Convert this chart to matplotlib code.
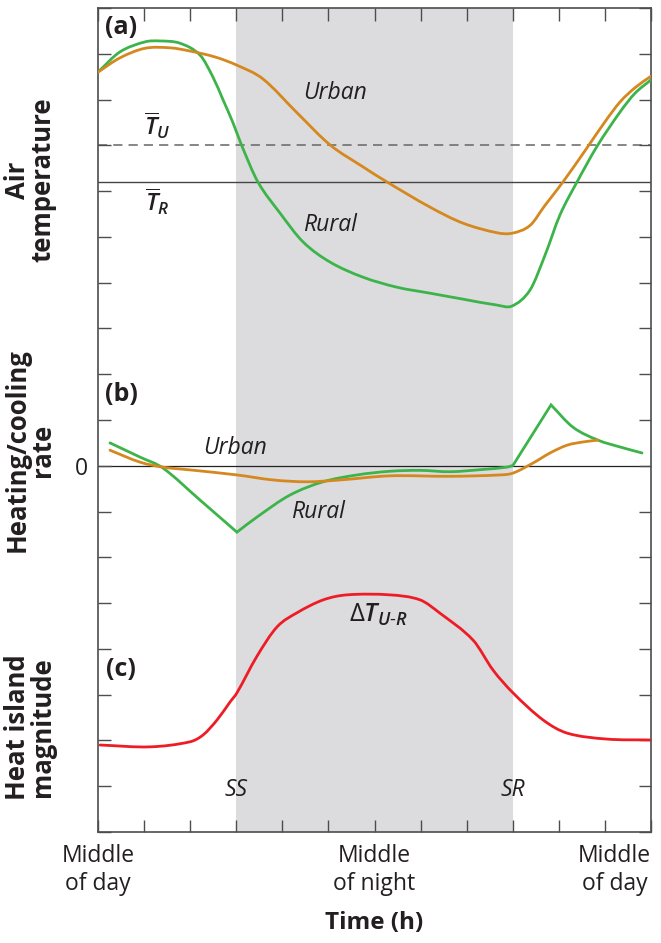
"""
Urban heat island diurnal cycle: air temperature, heating/cooling rate
and heat island magnitude on one shared time axis (schematic).
"""
import numpy as np
import matplotlib; matplotlib.use("Agg")
import matplotlib.pyplot as plt
from matplotlib.path import Path
from matplotlib.patches import PathPatch

plt.rcParams["font.family"] = ["Open Sans", "DejaVu Sans"]
plt.rcParams["mathtext.fontset"] = "custom"
plt.rcParams["mathtext.rm"] = "Open Sans"
plt.rcParams["mathtext.it"] = "Open Sans:italic:semibold"
plt.rcParams["mathtext.bf"] = "Open Sans:bold"

# time in hours from middle of day; y in stacked schematic units
SUNSET, SUNRISE = 6.0, 18.0
T_URBAN_MEAN, T_RURAL_MEAN, RATE_ZERO = 15.0, 14.2, 8.0

# ---- (a) air temperature ----
urban_a_h = [0, 0.95, 2.04, 3.13, 3.99, 5.08, 6.03, 7.16, 8.64, 10.07, 11.5, 12.54,
             14.41, 15.84, 17.32, 17.97, 18.75, 19.4, 20.18, 21.27, 22.01, 22.66, 23.31, 24]
urban_a = [16.6, 16.91, 17.12, 17.13, 17.06, 16.93, 16.75, 16.45, 15.71, 15.01, 14.53, 14.2,
           13.65, 13.3, 13.09, 13.08, 13.25, 13.69, 14.2, 14.98, 15.52, 15.95, 16.26, 16.51]
rural_a_h = [0, 0.95, 2.04, 2.69, 3.56, 4.43, 4.99, 5.43, 5.86, 6.25, 6.94, 7.9, 8.9,
             10.07, 11.5, 12.98, 14.41, 15.84, 17.32, 17.97, 18.75, 19.4, 20.05, 20.79,
             21.66, 22.66, 23.31, 24]
rural_a = [16.6, 17.04, 17.26, 17.28, 17.23, 16.97, 16.49, 15.99, 15.49, 14.98, 14.2, 13.52,
           12.89, 12.45, 12.12, 11.9, 11.77, 11.64, 11.51, 11.49, 11.84, 12.6, 13.48, 14.2,
           14.98, 15.73, 16.14, 16.43]

# ---- (b) heating/cooling rate (zero at RATE_ZERO) ----
urban_b_h = [0.52, 1.82, 2.82, 3.99, 6.03, 7.6, 9.07, 10.5, 12.67, 15.28, 17.45, 18.01,
             18.88, 19.62, 20.36, 21.05, 21.7]
urban_b = [8.34, 8.08, 7.97, 7.91, 7.8, 7.69, 7.65, 7.69, 7.78, 7.77, 7.8, 7.84,
           8.06, 8.28, 8.45, 8.52, 8.56]
rural_b_h = [0.52, 1.82, 2.82, 4.43, 6.03, 6.9, 8.33, 9.77, 11.24, 12.67, 13.98, 15.28,
             16.71, 17.75, 18.01, 19.66, 20.62, 21.7, 22.66, 23.61]
rural_b = [8.5, 8.19, 7.95, 7.25, 6.55, 6.88, 7.36, 7.65, 7.8, 7.88, 7.9, 7.87,
           7.92, 7.97, 8.01, 9.33, 8.84, 8.56, 8.41, 8.28]
rural_b_kinks = [4, 14, 15]   # sunset minimum, sunrise, morning peak

# ---- (c) heat island magnitude ----
dT_h = [0.09, 2.26, 3.99, 4.56, 5.17, 5.73, 6.03, 6.9, 7.77, 8.64, 9.77, 10.8, 12.67,
        13.98, 14.84, 16.28, 17.14, 18.01, 19.31, 20.36, 22.09, 24]
dT = [1.9, 1.86, 1.97, 2.12, 2.45, 2.84, 3.04, 3.84, 4.48, 4.79, 5.07, 5.18, 5.18,
      5.07, 4.78, 4.19, 3.54, 3.04, 2.45, 2.16, 2.03, 2.01]

xtick_pos = np.arange(0, 25, 2)
xtick_lab = {0: "Middle\nof day", 12: "Middle\nof night", 24: "Middle\nof day"}

GREEN, ORANGE, RED = "#3cb44a", "#d4881e", "#ee1c25"
INK, FRAME = "#231f20", "#4d4d4d"
FS = 16.5


def slopes(x, y):
    # centred finite differences (one-sided at the ends)
    m = np.empty_like(y)
    m[1:-1] = (y[2:] - y[:-2]) / (x[2:] - x[:-2])
    m[0] = (y[1] - y[0]) / (x[1] - x[0])
    m[-1] = (y[-1] - y[-2]) / (x[-1] - x[-2])
    return m


def smooth_line(ax, xs, ys, kinks=(), **kw):
    """Draw the read points as one smooth curve (cubic Bezier), sharp at kinks."""
    xs, ys = np.asarray(xs, float), np.asarray(ys, float)
    cuts = [0] + sorted(kinks) + [len(xs) - 1]
    verts, codes = [(xs[0], ys[0])], [Path.MOVETO]
    for a, b in zip(cuts[:-1], cuts[1:]):
        x, y = xs[a:b+1], ys[a:b+1]
        m = slopes(x, y)
        for i in range(len(x) - 1):
            h = (x[i+1] - x[i]) / 3
            verts += [(x[i] + h, y[i] + h*m[i]), (x[i+1] - h, y[i+1] - h*m[i+1]),
                      (x[i+1], y[i+1])]
            codes += [Path.CURVE4] * 3
    ax.add_patch(PathPatch(Path(verts, codes), fill=False, capstyle="round",
                           joinstyle="miter", **kw))


fig = plt.figure(figsize=(6.61, 9.43), dpi=100)
ax = fig.add_axes([98/661, 1-832/943, 553/661, 824/943])
ax.set_xlim(0, 24); ax.set_ylim(0, 18)

ax.axvspan(SUNSET, SUNRISE, color="#dcdcdf", lw=0, zorder=0)
ax.axhline(T_URBAN_MEAN, color="#666666", lw=1.1, ls=(0, (6, 4)), zorder=1)
ax.axhline(T_RURAL_MEAN, color="#444444", lw=1.0, zorder=1)
ax.axhline(RATE_ZERO, color="#222222", lw=0.9, zorder=1)

lw = 2.0
smooth_line(ax, rural_a_h, rural_a, color=GREEN, lw=lw, zorder=3)
smooth_line(ax, urban_a_h, urban_a, color=ORANGE, lw=lw, zorder=4)
smooth_line(ax, rural_b_h, rural_b, kinks=rural_b_kinks, color=GREEN, lw=lw, zorder=3)
smooth_line(ax, urban_b_h, urban_b, color=ORANGE, lw=lw, zorder=4)
smooth_line(ax, dT_h, dT, color=RED, lw=lw, zorder=3)

# annotations
it = dict(color=INK, fontsize=FS, style="italic", ha="center", va="center")
ax.text(10.29, 16.14, "Urban", **it)
ax.text(10.07, 13.26, "Rural", **it)
ax.text(5.95, 8.39, "Urban", **it)
ax.text(9.55, 6.99, "Rural", **it)
ax.text(SUNSET, 0.92, "SS", **it)
ax.text(SUNRISE, 0.92, "SR", **it)
ax.text(2.55, 15.44, r"$\overline{T}_{U}$", color=INK, fontsize=FS+1, ha="center", va="center")
ax.text(2.55, 13.78, r"$\overline{T}_{R}$", color=INK, fontsize=FS+1, ha="center", va="center")
ax.text(12.15, 4.74, r"$\Delta T_{U\text{-}R}$", color=INK, fontsize=FS+2, ha="center", va="center")
for y, s in [(17.58, "(a)"), (9.55, "(b)"), (3.54, "(c)")]:
    ax.text(1.0, y, s, color=INK, fontsize=18, fontweight="bold", ha="center", va="center")

# ticks and frame
ax.set_xticks(xtick_pos)
ax.set_xticklabels([xtick_lab.get(int(v), "") for v in xtick_pos], fontsize=FS, color=INK)
last = ax.get_xticklabels()[-1]
last.set_horizontalalignment("right"); last.set_multialignment("center")
ax.set_yticks(np.arange(0, 19, 1))
ax.set_yticklabels(["0" if v == RATE_ZERO else "" for v in range(19)], fontsize=FS, color=INK)
ax.tick_params(direction="in", length=9, width=1.0, color=FRAME,
               top=True, right=True, pad=9)
ax.tick_params(axis="y", pad=7)
for s in ax.spines.values():
    s.set_color(FRAME); s.set_linewidth(1.2)

ax.set_xlabel("Time (h)", fontsize=17.5, fontweight="bold", color=INK, labelpad=11)

ylab = dict(fontsize=18.5, fontweight="bold", color=INK, rotation=90,
            ha="center", va="center", linespacing=0.95)
fig.text(30/661, 1-180/943, "Air\ntemperature", **ylab)
fig.text(30/661, 1-450/943, "Heating/cooling\nrate", **ylab)
fig.text(30/661, 1-727/943, "Heat island\nmagnitude", **ylab)

fig.savefig("out.png", dpi=100)
